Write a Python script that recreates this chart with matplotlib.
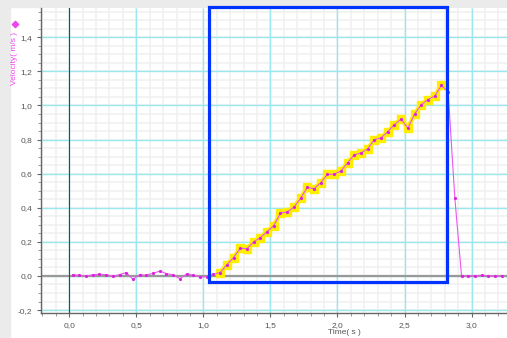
import numpy as np
import matplotlib
matplotlib.use("Agg")
import matplotlib.pyplot as plt
from matplotlib.patches import Rectangle
from matplotlib.lines import Line2D
from matplotlib.ticker import MultipleLocator, FuncFormatter

# ---- data ----
time_s = [0.025 + 0.05 * k for k in range(65)]
velocity = [
    0.008, 0.004, -0.002, 0.008, 0.010, 0.008, -0.002, 0.008, 0.020, -0.020,
    0.008, 0.004, 0.016, 0.028, 0.014, 0.006, -0.016, 0.012, 0.005, -0.006,
    -0.004, 0.010,
    0.020, 0.065, 0.108, 0.162, 0.160, 0.200, 0.225, 0.260, 0.295, 0.370,
    0.375, 0.404, 0.455, 0.520, 0.512, 0.547, 0.596, 0.597, 0.615, 0.663,
    0.710, 0.722, 0.745, 0.800, 0.810, 0.847, 0.888, 0.920, 0.867, 0.950,
    1.005, 1.035, 1.055, 1.118,
    1.080, 0.457, 0.000, 0.000, 0.000, 0.005, 0.000, 0.000, 0.000,
]
highlight_range = (22, 56)          # indices of the highlighted (selected) points
selection_t = (1.042, 2.813)        # selection box in data units
selection_v = (-0.035, 1.578)
xticks = [0.0, 0.5, 1.0, 1.5, 2.0, 2.5, 3.0]
yticks = [-0.2, 0.0, 0.2, 0.4, 0.6, 0.8, 1.0, 1.2, 1.4]

W, H = 507, 338
plt.rcParams["font.family"] = ["Liberation Sans", "DejaVu Sans"]
fig = plt.figure(figsize=(W / 100, H / 100), dpi=100, facecolor="white")

# gray frame strips (left & top)
fig.add_artist(Rectangle((0, 0), 10 / W, 1, transform=fig.transFigure,
                         color="#ebebeb", zorder=-5))
fig.add_artist(Rectangle((0, 1 - 7.3 / H), 1, 7.3 / H, transform=fig.transFigure,
                         color="#ebebeb", zorder=-5))

ax = fig.add_axes([40.7 / W, (H - 313.3) / H, 1 - 40.7 / W, (313.3 - 8.3) / H])
xlim = (-0.213, 3.264)
ylim = (-0.219, 1.570)
ax.set_xlim(*xlim)
ax.set_ylim(*ylim)

for s in ["top", "right"]:
    ax.spines[s].set_visible(False)
for s in ["left", "bottom"]:
    ax.spines[s].set_color("#666666")
    ax.spines[s].set_linewidth(1.0)
    ax.spines[s].set_zorder(6)

ax.set_xticks(xticks)
ax.set_yticks(yticks)
ax.xaxis.set_minor_locator(MultipleLocator(0.1))
ax.yaxis.set_minor_locator(MultipleLocator(0.05))
fmt = FuncFormatter(lambda v, p: f"{v:.1f}".replace(".", ",").replace("-0,0", "0,0"))
ax.xaxis.set_major_formatter(fmt)
ax.yaxis.set_major_formatter(fmt)
ax.tick_params(axis="both", which="major", labelsize=6, labelcolor="#555555",
               color="#666666", length=3, width=0.8, pad=3)
ax.tick_params(axis="both", which="minor", color="#888888", length=2, width=0.6)

# grid drawn manually so the minor lines stay beneath the major ones
minor_x = np.arange(-0.2, 3.3, 0.1)
minor_y = np.arange(-0.2, 1.6, 0.05)
ax.vlines(minor_x, *ylim, color="#f0f0f0", lw=1.1, zorder=0.2)
ax.hlines(minor_y, *xlim, color="#f0f0f0", lw=1.1, zorder=0.2)
ax.vlines(xticks, *ylim, color="#9ae8ee", lw=1.0, zorder=0.5)
ax.hlines(yticks, *xlim, color="#9ae8ee", lw=1.0, zorder=0.5)

ax.axhline(0, color="#999999", lw=1.6, zorder=1)
ax.axvline(0, color="#444444", lw=0.8, zorder=1)

t = np.array(time_s)
v = np.array(velocity)
a, b = highlight_range
ax.plot(t[a:b], v[a:b], color="#ffee00", lw=3.2, marker="s", ms=5.2,
        mfc="#ffee00", mec="#ffee00", zorder=3, solid_joinstyle="round")
ax.plot(t, v, color="#ee55ee", lw=0.8, marker="o", ms=2.3,
        mfc="#dd22dd", mec="none", zorder=4)

ax.add_patch(Rectangle((selection_t[0], selection_v[0]),
                       selection_t[1] - selection_t[0], selection_v[1] - selection_v[0],
                       fill=False, ec="#0033ff", lw=2.3, zorder=5, clip_on=False))

fig.text(344 / W, (H - 332.5) / H, "Time( s )", ha="center", va="center",
         fontsize=6, color="#555555")
fig.text(15 / W, (H - 58.5) / H, "Velocity( m/s )", ha="center", va="center",
         rotation=90, fontsize=6, color="#ee44ee")
fig.add_artist(Line2D([15 / W], [(H - 24) / H], transform=fig.transFigure,
                      color="#ee44ee", marker="D", ms=3.2, lw=0))
fig.add_artist(Line2D([12 / W, 18 / W], [(H - 24) / H, (H - 24) / H],
                      transform=fig.transFigure, color="#ee44ee", lw=0.9))
fig.add_artist(Line2D([15 / W, 15 / W], [(H - 21) / H, (H - 27) / H],
                      transform=fig.transFigure, color="#ee44ee", lw=0.9))

fig.savefig("out.png", dpi=100, facecolor=fig.get_facecolor())
